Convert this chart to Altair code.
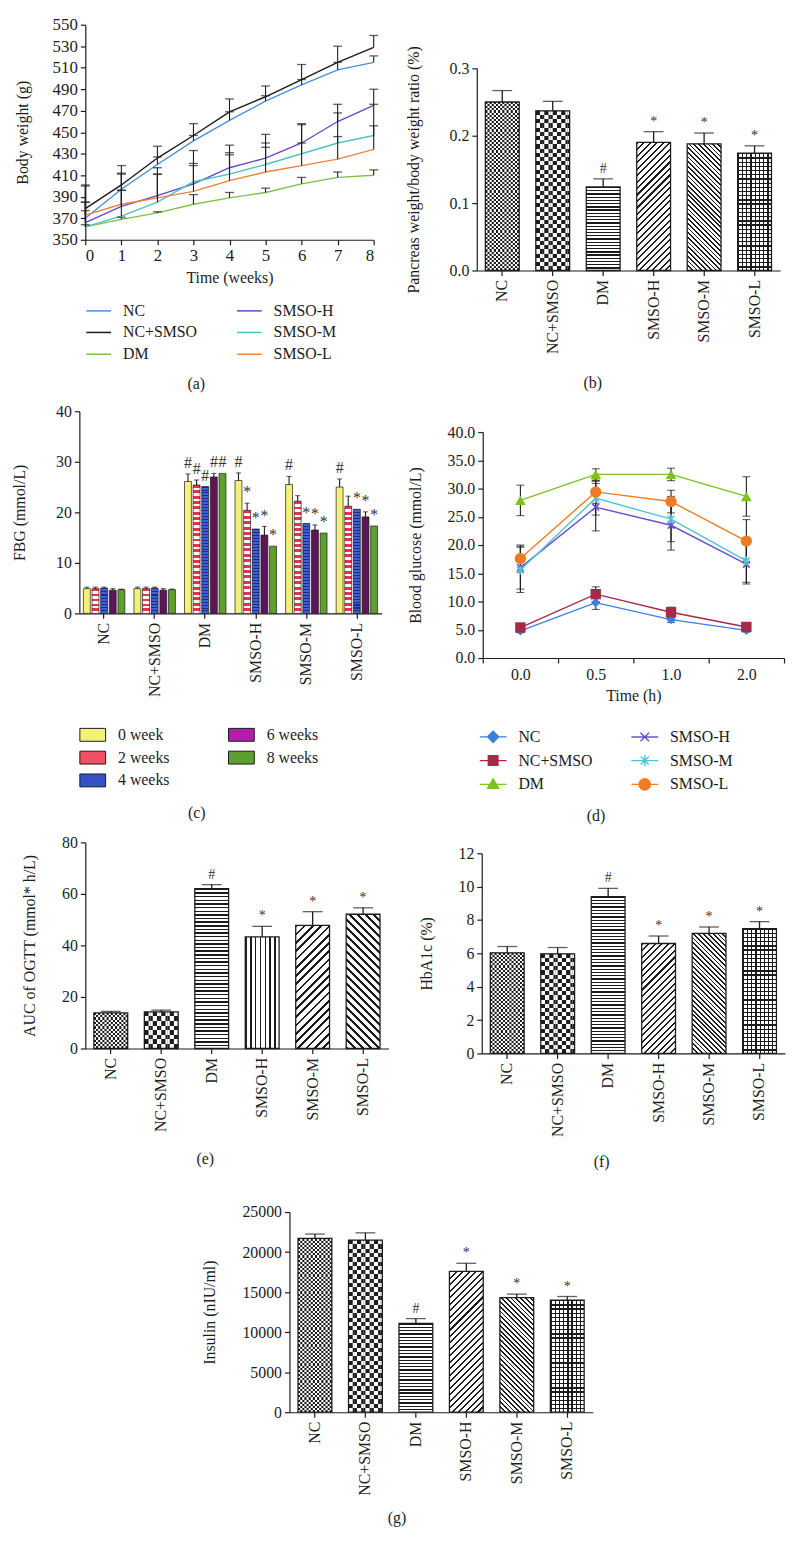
import math
import altair as alt
import pandas as pd

FONT = "Liberation Serif"
INK = "#1c1c1c"
WHITE = "#ffffff"
CLEAR = "rgba(255,255,255,0)"

groups = ["NC", "NC+SMSO", "DM", "SMSO-H", "SMSO-M", "SMSO-L"]

# ---------------- (a) body weight ----------------
weeks = [0, 1, 2, 3, 4, 5, 6, 7, 8]
bw_nc = [370, 397, 420, 442, 461, 479, 494, 508, 515]
bw_ncs = [379, 401, 426, 447, 469, 483, 499, 515, 529]
bw_dm = [362, 369, 375, 383, 389, 394, 402, 408, 410]
bw_h = [366, 381, 391, 402, 417, 426, 440, 460, 475]
bw_m = [362, 372, 385, 404, 411, 420, 430, 440, 447]
bw_l = [373, 383, 389, 395, 405, 413, 419, 425, 434]
bw_nc_sd = [15, 15, 7, 5, 8, 5, 5, 7, 6]
bw_ncs_sd = [22, 18, 11, 11, 12, 10, 14, 15, 11]
bw_dm_sd = [2, 2, 1, 9, 5, 4, 6, 5, 5]
bw_h_sd = [34, 15, 26, 19, 21, 22, 18, 16, 15]
bw_m_sd = [15, 39, 26, 29, 20, 20, 27, 28, 29]
bw_l_sd = [12, 13, 22, 24, 24, 23, 21, 21, 22]

# ---------------- (b) pancreas ratio ----------------
pw = [0.250, 0.237, 0.124, 0.190, 0.188, 0.174]
pw_sd = [0.017, 0.014, 0.012, 0.016, 0.016, 0.011]
sig_b = ["", "", "#", "*", "*", "*"]

# ---------------- (c) FBG ----------------
weeks_c = ["0 week", "2 weeks", "4 weeks", "6 weeks", "8 weeks"]
fbg_0 = [4.9, 4.9, 26.1, 26.3, 25.5, 25.0]
fbg_2 = [4.9, 4.9, 25.4, 20.4, 22.2, 21.2]
fbg_4 = [5.0, 5.0, 25.1, 16.7, 17.8, 20.6]
fbg_6 = [4.6, 4.6, 27.0, 15.5, 16.5, 19.1]
fbg_8 = [4.7, 4.7, 27.7, 13.3, 15.9, 17.3]
fbg_0_sd = [0.3, 0.3, 1.5, 1.5, 1.6, 1.6]
fbg_2_sd = [0.3, 0.3, 1.0, 1.4, 1.1, 2.0]
fbg_4_sd = [0.2, 0.2, 0.0, 0.0, 0.0, 0.0]
fbg_6_sd = [0.3, 0.3, 0.7, 1.7, 1.0, 1.0]
fbg_8_sd = [0.1, 0.1, 0.0, 0.0, 0.0, 0.0]
sig_0 = ["", "", "#", "#", "#", "#"]
sig_2 = ["", "", "#", "*", "", ""]
sig_4 = ["", "", "#", "*", "*", "*"]
sig_6 = ["", "", "#", "*", "*", "*"]
sig_8 = ["", "", "#", "*", "*", "*"]

# ---------------- (d) OGTT ----------------
times = ["0.0", "0.5", "1.0", "2.0"]
bg_nc = [4.8, 9.8, 6.8, 4.9]
bg_ncs = [5.4, 11.3, 8.1, 5.5]
bg_dm = [27.9, 32.5, 32.5, 28.6]
bg_h = [16.0, 26.7, 23.5, 16.6]
bg_m = [15.6, 28.3, 24.6, 17.2]
bg_l = [17.6, 29.4, 27.7, 20.7]
bg_nc_sd = [0.3, 1.2, 0.5, 0.3]
bg_ncs_sd = [0.4, 1.3, 0.9, 0.4]
bg_dm_sd = [2.7, 1.0, 1.1, 3.5]
bg_h_sd = [3.8, 4.2, 4.4, 3.5]
bg_m_sd = [4.0, 3.0, 4.0, 3.8]
bg_l_sd = [2.4, 2.0, 2.0, 3.8]

# ---------------- (e) AUC ----------------
auc = [13.8, 14.2, 62.0, 43.3, 47.8, 52.1]
auc_sd = [0.6, 0.7, 1.6, 4.1, 5.3, 2.5]
sig_e = ["", "", "#", "*", "*", "*"]

# ---------------- (f) HbA1c ----------------
hba = [6.03, 5.97, 9.40, 6.59, 7.20, 7.48]
hba_sd = [0.38, 0.38, 0.50, 0.45, 0.38, 0.42]
sig_f = ["", "", "#", "*", "*", "*"]

# ---------------- (g) insulin ----------------
ins = [21700, 21500, 11100, 17600, 14300, 14000]
ins_sd = [550, 900, 600, 1000, 450, 450]
sig_g = ["", "", "#", "*", "*", "*"]


# ================= helpers =================
def stripes(n, duty, c_line, c_bg, x1, y1, x2, y2):
    n = max(1, int(round(n)))
    stops = []
    for i in range(n):
        a = i / n
        b = (i + duty) / n
        c = (i + 1) / n
        stops += [{"offset": round(a, 5), "color": c_line},
                  {"offset": round(b, 5), "color": c_line},
                  {"offset": round(b, 5), "color": c_bg},
                  {"offset": round(c, 5), "color": c_bg}]
    return {"gradient": "linear", "x1": x1, "y1": y1, "x2": x2, "y2": y2, "stops": stops}


def h_grad(h, pitch, duty, cl, cb):
    return stripes(h / pitch, duty, cl, cb, 0, 0, 0, 1)


def v_grad(w, pitch, duty, cl, cb):
    return stripes(w / pitch, duty, cl, cb, 0, 0, 1, 0)


def diag_grad(w, h, pitch, duty, cl, cb, up=True):
    k = (w + h) / (w * w + h * h)
    n = (w + h) / (pitch * math.sqrt(2))
    if up:
        return stripes(n, duty, cl, cb, 0, 0, k * w, k * h)
    return stripes(n, duty, cl, cb, 0, 1, k * w, 1 - k * h)


def sp(w, h):
    # empty spacer view (no drawn items)
    return alt.Chart(pd.DataFrame({"z": [0]})).transform_filter("false").mark_point(
        opacity=0).encode(x=alt.value(0), y=alt.value(0)).properties(width=w, height=h)


IND = dict(color="independent", fill="independent", stroke="independent",
           shape="independent", xOffset="independent")
LIND = dict(color="independent", fill="independent", stroke="independent", shape="independent")


def hc(*charts):
    return alt.hconcat(*charts, spacing=0).resolve_scale(**IND).resolve_legend(**LIND)


def vc(*charts, spacing=0):
    return alt.vconcat(*charts, spacing=spacing).resolve_scale(**IND).resolve_legend(**LIND)


def ptitle(label, off):
    return alt.TitleParams(label, orient="bottom", anchor="middle", frame="bounds",
                           offset=off, font=FONT, fontSize=16, fontWeight="normal", color=INK)


# ================= bar panels (b, e, f, g) =================
def bar_panel(values, sds, sig, patterns, ymax, yvals, yfmt, ytitle, H, label, tpad, toff,
              W=306, pitches=None):
    PI, PO = 0.33, 0.17
    pitches = pitches or {}
    step = W / (len(groups) - PI + 2 * PO)
    bwid = step * (1 - PI)
    tops = [v + s for v, s in zip(values, sds)]
    df = pd.DataFrame({"group": groups, "value": values, "top": tops, "sig": sig})
    dcols = pd.DataFrame({"group": [g for g in groups for c in range(16)],
                          "value": [v for v in values for c in range(16)],
                          "col": [c for g in groups for c in range(16)]})
    xe = alt.X("group:N", sort=groups,
               scale=alt.Scale(domain=groups, paddingInner=PI, paddingOuter=PO),
               axis=alt.Axis(title=None, labelAngle=-90, labelPadding=4))

    def ye(f):
        return alt.Y(f, scale=alt.Scale(domain=[0, ymax], nice=False, zero=True),
                     axis=alt.Axis(values=yvals, format=yfmt, title=ytitle, titlePadding=tpad))

    xo = alt.XOffset("col:O", scale=alt.Scale(domain=list(range(16)), paddingInner=0, paddingOuter=0))
    layers = []
    for g, v, pat in zip(groups, values, patterns):
        h = v / ymax * H
        sel = f"datum.group === '{g}'"

        def lay(fill, data=df, extra=None, offset=False):
            flt = sel if extra is None else f"{sel} && {extra}"
            enc = dict(x=xe, y=ye("value:Q"))
            if offset:
                enc["xOffset"] = xo
            return alt.Chart(data).transform_filter(flt).mark_bar(
                fill=fill, strokeWidth=0).encode(**enc)

        if pat in ("fine", "checker"):
            ncol = 16 if pat == "fine" else 8
            cell = bwid / ncol
            nper = h / (2 * cell)
            layers.append(lay(stripes(nper, 0.5, INK, WHITE, 0, 0, 0, 1)))
            par = "datum.col % 2 === 1" if pat == "fine" else "floor(datum.col / 2) % 2 === 1"
            layers.append(lay(stripes(nper, 0.5, WHITE, INK, 0, 0, 0, 1), data=dcols,
                              extra=par, offset=True))
        elif pat == "h":
            layers.append(lay(h_grad(h, pitches.get("h", 3.3), 0.4, INK, WHITE)))
        elif pat == "v":
            layers.append(lay(v_grad(bwid, pitches.get("v", 5.0), 0.3, INK, WHITE)))
        elif pat == "up":
            layers.append(lay(diag_grad(bwid, h, pitches.get("up", 4.6), 0.32, INK, WHITE, up=True)))
        elif pat == "down":
            layers.append(lay(diag_grad(bwid, h, pitches.get("down", 3.4), 0.38, INK, WHITE, up=False)))
        elif pat == "grid":
            layers.append(lay(WHITE))
            layers.append(lay(h_grad(h, 4.2, 0.3, INK, CLEAR)))
            layers.append(lay(v_grad(bwid, 4.2, 0.3, INK, CLEAR)))

    layers.append(alt.Chart(df).mark_bar(fill="transparent", stroke=INK, strokeWidth=1.3).encode(
        x=xe, y=ye("value:Q")))
    layers.append(alt.Chart(df).mark_rule(color=INK, strokeWidth=1.3).encode(
        x=xe, y=ye("value:Q"), y2="top:Q"))
    layers.append(alt.Chart(df).mark_tick(color=INK, thickness=1.3, size=20, orient="horizontal").encode(
        x=xe, y=ye("top:Q")))
    layers.append(alt.Chart(df).mark_text(font=FONT, fontSize=14, baseline="bottom", dy=-3,
                                          color="#333333").encode(
        x=xe, y=ye("top:Q"), text="sig:N"))
    return alt.layer(*layers).properties(width=W, height=H, title=ptitle(label, toff))


# ================= panel (a) =================
def panel_a():
    rows = []
    for name, vals, sds in [("NC", bw_nc, bw_nc_sd), ("NC+SMSO", bw_ncs, bw_ncs_sd),
                            ("DM", bw_dm, bw_dm_sd), ("SMSO-H", bw_h, bw_h_sd),
                            ("SMSO-M", bw_m, bw_m_sd), ("SMSO-L", bw_l, bw_l_sd)]:
        for w, v, s in zip(weeks, vals, sds):
            rows.append({"week": w, "series": name, "value": v, "top": v + s})
    df = pd.DataFrame(rows)
    order = ["NC", "NC+SMSO", "DM", "SMSO-H", "SMSO-M", "SMSO-L"]
    cols = {"NC": "#4a8fd8", "NC+SMSO": "#1a1a1a", "DM": "#7dc243",
            "SMSO-H": "#6449c6", "SMSO-M": "#4dc2c4", "SMSO-L": "#f0803c"}
    xe = alt.X("week:Q", scale=alt.Scale(domain=[0, 8], nice=False),
               axis=alt.Axis(values=weeks, format="d", title="Time (weeks)", titlePadding=6,
                             labelFontSize=17))

    def ye(f):
        return alt.Y(f, scale=alt.Scale(domain=[350, 550], nice=False, zero=False),
                     axis=alt.Axis(values=list(range(350, 551, 20)), title="Body weight (g)",
                                   titlePadding=22, labelFontSize=17))

    lines = alt.Chart(df).mark_line(strokeWidth=1.4).encode(
        x=xe, y=ye("value:Q"),
        color=alt.Color("series:N", scale=alt.Scale(domain=order, range=[cols[s] for s in order]),
                        legend=alt.Legend(title=None, orient="none", legendX=0, legendY=275, columns=2,
                                          symbolType="stroke", symbolSize=625, symbolStrokeWidth=1.5,
                                          labelOffset=11, columnPadding=37, rowPadding=0)))
    err = alt.Chart(df).mark_rule(color=INK, strokeWidth=1.1).encode(x=xe, y=ye("value:Q"), y2="top:Q")
    caps = alt.Chart(df).mark_tick(color=INK, thickness=1.3, size=9, orient="horizontal").encode(
        x=xe, y=ye("top:Q"))
    return alt.layer(lines, err, caps).properties(width=291, height=217, title=ptitle("(a)", 14))


# ================= panel (c) =================
def panel_c():
    W, H = 305, 204
    PI, PO = 0.18, 0.08
    rows = []
    for wk, vals, sds, sigs in zip(weeks_c, [fbg_0, fbg_2, fbg_4, fbg_6, fbg_8],
                                   [fbg_0_sd, fbg_2_sd, fbg_4_sd, fbg_6_sd, fbg_8_sd],
                                   [sig_0, sig_2, sig_4, sig_6, sig_8]):
        for g, v, s, sg in zip(groups, vals, sds, sigs):
            rows.append({"group": g, "week": wk, "value": v, "err": s, "top": v + s, "sig": sg})
    df = pd.DataFrame(rows)
    xe = alt.X("group:N", sort=groups, scale=alt.Scale(domain=groups, paddingInner=PI, paddingOuter=PO),
               axis=alt.Axis(title=None, labelAngle=-90, labelPadding=4))
    xo = alt.XOffset("week:N", sort=weeks_c,
                     scale=alt.Scale(domain=weeks_c, paddingInner=0.2, paddingOuter=0))

    def ye(f):
        return alt.Y(f, scale=alt.Scale(domain=[0, 40], nice=False),
                     axis=alt.Axis(values=[0, 10, 20, 30, 40], title="FBG (mmol/L)", titlePadding=28))

    solid = {"0 week": "#f3f17a", "6 weeks": "#5c1656", "8 weeks": "#5ea02f"}
    layers = []
    for wk in weeks_c:
        if wk in solid:
            layers.append(alt.Chart(df).transform_filter(f"datum.week === '{wk}'").mark_bar(
                fill=solid[wk], stroke=INK, strokeWidth=0.7).encode(x=xe, xOffset=xo, y=ye("value:Q")))
        else:
            for g in groups:
                v = float(df[(df.group == g) & (df.week == wk)].value.iloc[0])
                h = v / 40 * H
                if wk == "2 weeks":
                    fill = h_grad(h, 5.5, 0.55, "#e8334a", WHITE)
                else:
                    fill = h_grad(h, 3.0, 0.35, "#1b2a8c", "#4060d8")
                layers.append(alt.Chart(df).transform_filter(
                    f"datum.week === '{wk}' && datum.group === '{g}'").mark_bar(
                    fill=fill, stroke=INK, strokeWidth=0.7).encode(x=xe, xOffset=xo, y=ye("value:Q")))
    ed = alt.Chart(df).transform_filter("datum.err > 0")
    layers.append(ed.mark_rule(color=INK, strokeWidth=1.1).encode(x=xe, xOffset=xo, y=ye("value:Q"), y2="top:Q"))
    layers.append(ed.mark_tick(color=INK, thickness=1.1, size=5, orient="horizontal").encode(
        x=xe, xOffset=xo, y=ye("top:Q")))
    layers.append(alt.Chart(df).mark_text(font=FONT, fontSize=16, baseline="bottom", dy=-3,
                                          color="#333333").encode(
        x=xe, xOffset=xo, y=ye("top:Q"), text="sig:N"))
    leg_cols = ["#f3f17a", "#ee5064", "#3550c8", "#b31ea8", "#5ea02f"]
    layers.append(alt.Chart(df).transform_filter("datum.value < -1000").mark_bar(
        stroke=INK, strokeWidth=1).encode(
        x=xe, xOffset=xo, y=ye("value:Q"),
        fill=alt.Fill("week:N", scale=alt.Scale(domain=weeks_c, range=leg_cols),
                      legend=alt.Legend(title=None, orient="none", legendX=0, legendY=313, columns=2,
                                        symbolType="M-1,-0.5H1V0.5H-1Z", symbolSize=676,
                                        symbolStrokeColor=INK, symbolStrokeWidth=1,
                                        labelOffset=12, columnPadding=57, rowPadding=1))))
    return alt.layer(*layers).properties(width=W, height=H, title=ptitle("(c)", 16))


# ================= panel (d) =================
def panel_d():
    W, H = 304, 228
    series = ["NC", "NC+SMSO", "DM", "SMSO-H", "SMSO-M", "SMSO-L"]
    cols = {"NC": "#3d7fdc", "NC+SMSO": "#a52a46", "DM": "#7cc222",
            "SMSO-H": "#6a50d0", "SMSO-M": "#4fc4d2", "SMSO-L": "#ef7b24"}
    rows = []
    for name, vals, sds in [("NC", bg_nc, bg_nc_sd), ("NC+SMSO", bg_ncs, bg_ncs_sd),
                            ("DM", bg_dm, bg_dm_sd), ("SMSO-H", bg_h, bg_h_sd),
                            ("SMSO-M", bg_m, bg_m_sd), ("SMSO-L", bg_l, bg_l_sd)]:
        for t, v, s in zip(times, vals, sds):
            rows.append({"series": name, "time": t, "value": v, "lo": v - s, "hi": v + s})
    df = pd.DataFrame(rows)
    xe = alt.X("time:N", sort=times, scale=alt.Scale(domain=times, paddingInner=0, paddingOuter=0),
               axis=alt.Axis(title="Time (h)", labelAngle=0, tickBand="extent", titlePadding=5,
                             labelPadding=4))

    def ye(f):
        return alt.Y(f, scale=alt.Scale(domain=[0, 40], nice=False),
                     axis=alt.Axis(values=list(range(0, 41, 5)), format=".1f",
                                   title="Blood glucose (mmol/L)", titlePadding=24))

    line_dom = list(reversed(series))  # own colour scale for the lines (kept apart from the legend)
    layers = [alt.Chart(df).mark_line(strokeWidth=1.4).encode(
        x=xe, y=ye("value:Q"),
        color=alt.Color("series:N", scale=alt.Scale(domain=line_dom, range=[cols[s] for s in line_dom]),
                        legend=None))]
    layers.append(alt.Chart(df).mark_rule(color=INK, strokeWidth=1.1).encode(x=xe, y=ye("lo:Q"), y2="hi:Q"))
    layers.append(alt.Chart(df).mark_tick(color=INK, thickness=1.1, size=8, orient="horizontal").encode(
        x=xe, y=ye("hi:Q")))
    layers.append(alt.Chart(df).mark_tick(color=INK, thickness=1.1, size=8, orient="horizontal").encode(
        x=xe, y=ye("lo:Q")))
    X_PATH = "M-1,-1L1,1M-1,1L1,-1"
    AST_PATH = "M-1,-1L1,1M-1,1L1,-1M0,-1.35V1.35"
    styles = [("NC", "diamond", 90, True), ("NC+SMSO", "square", 110, True),
              ("DM", "triangle-up", 120, True), ("SMSO-H", X_PATH, 45, False),
              ("SMSO-M", AST_PATH, 45, False), ("SMSO-L", "circle", 130, True)]
    for s, shp, size, filled in styles:
        layers.append(alt.Chart(df).transform_filter(f"datum.series === '{s}'").mark_point(
            shape=shp, size=size, filled=filled, color=cols[s], opacity=1, strokeWidth=1.6).encode(
            x=xe, y=ye("value:Q")))
    leg_paths = {
        "NC": "M-1,0H1M0,-0.42L0.42,0L0,0.42L-0.42,0Z",
        "NC+SMSO": "M-1,0H1M-0.36,-0.36H0.36V0.36H-0.36Z",
        "DM": "M-1,0H1M0,-0.42L0.42,0.3H-0.42Z",
        "SMSO-H": "M-1,0H1M-0.32,-0.32L0.32,0.32M-0.32,0.32L0.32,-0.32",
        "SMSO-M": "M-1,0H1M-0.3,-0.3L0.3,0.3M-0.3,0.3L0.3,-0.3M0,-0.42V0.42",
        "SMSO-L": "M-1,0H1M0.42,0A0.42,0.42,0,1,1,-0.42,0A0.42,0.42,0,1,1,0.42,0Z",
    }
    leg = alt.Legend(title=None, orient="none", legendX=-4, legendY=293, columns=2, symbolSize=729,
                     symbolStrokeWidth=1.4, labelOffset=11, columnPadding=36, rowPadding=1)
    rng = [cols[s] for s in series]
    layers.append(alt.Chart(df).transform_filter("datum.value < -1000").mark_point(
        filled=True, opacity=1, strokeWidth=1.4).encode(
        x=xe, y=ye("value:Q"),
        fill=alt.Fill("series:N", scale=alt.Scale(domain=series, range=rng), legend=leg),
        stroke=alt.Stroke("series:N", scale=alt.Scale(domain=series, range=rng), legend=leg),
        shape=alt.Shape("series:N", scale=alt.Scale(domain=series, range=[leg_paths[s] for s in series]),
                        legend=leg)))
    return alt.layer(*layers).properties(width=W, height=H, title=ptitle("(d)", 15))


pat_bfg = ["fine", "checker", "h", "up", "down", "grid"]
pat_e = ["fine", "checker", "h", "v", "up", "down"]

panel_b = bar_panel(pw, pw_sd, sig_b, pat_bfg, 0.3, [0, 0.1, 0.2, 0.3], ".1f",
                    "Pancreas weight/body weight ratio (%)", 204, "(b)", 28, 22)
panel_e = bar_panel(auc, auc_sd, sig_e, pat_e, 80, [0, 20, 40, 60, 80], "d",
                    "AUC of OGTT (mmol* h/L)", 208, "(e)", 24, 20,
                    pitches={"h": 3.7, "v": 5.0, "up": 5.8, "down": 5.8})
panel_f = bar_panel(hba, hba_sd, sig_f, pat_bfg, 12, [0, 2, 4, 6, 8, 10, 12], "d",
                    "HbA1c (%)", 202, "(f)", 24, 18)
panel_g = bar_panel(ins, ins_sd, sig_g, pat_bfg, 25000, [0, 5000, 10000, 15000, 20000, 25000], "d",
                    "Insulin (nIU/ml)", 202, "(g)", 25, 15)

row1 = hc(sp(4, 1), panel_a(), sp(24, 1), vc(sp(1, 19), panel_b))
row2 = hc(sp(1, 1), panel_c(), sp(22, 1), vc(sp(1, 11), panel_d()))
row3 = hc(sp(11, 1), panel_e, sp(26, 1), vc(sp(1, 1), panel_f))
row4 = hc(sp(192, 1), vc(sp(1, 21), panel_g))

chart = vc(row1, row2, row3, row4, spacing=9).properties(
    padding={"left": 0, "top": 0, "right": 0, "bottom": 0}
).configure_axis(
    labelFont=FONT, titleFont=FONT, labelFontSize=16, titleFontSize=16, titleFontWeight="normal",
    labelColor=INK, titleColor=INK, domainColor=INK, tickColor=INK, domainWidth=1.2, tickWidth=1.2,
    tickSize=5, grid=False, labelPadding=3
).configure_legend(
    labelFont=FONT, labelFontSize=16, labelColor=INK, labelLimit=300
).configure_view(
    stroke="transparent"
)

chart.save("out.html", embed_options={"renderer": "svg", "actions": False})
